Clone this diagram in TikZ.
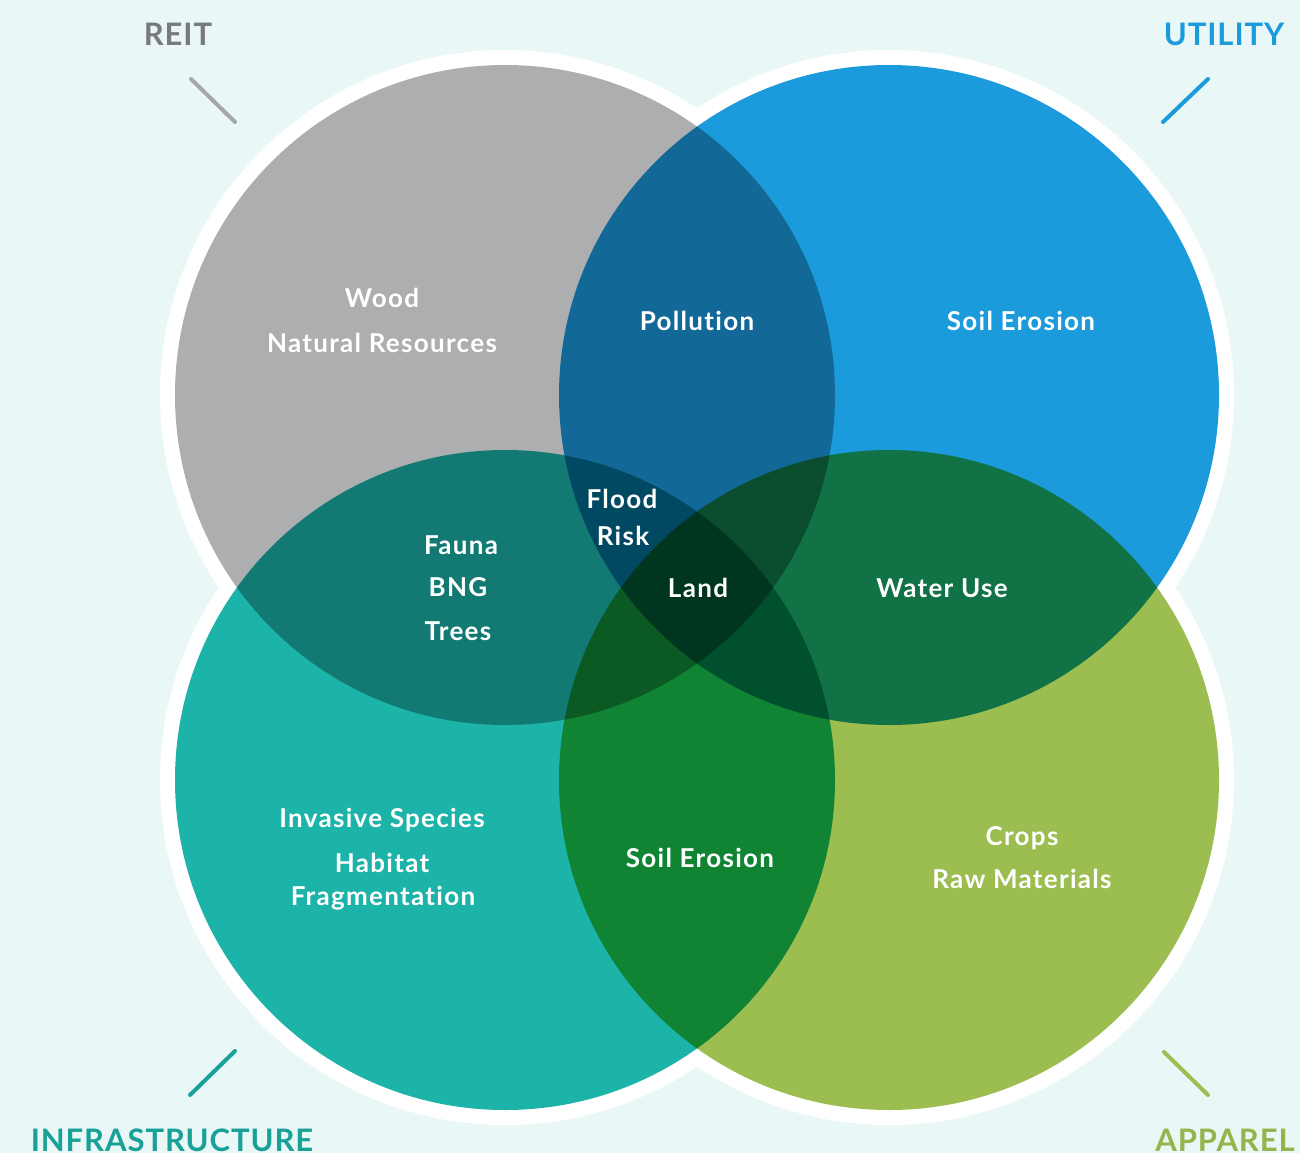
\documentclass[tikz,border=0pt]{standalone}
\usepackage{fontspec}
\setmainfont{Lato}[Ligatures=NoCommon]
\newfontfamily\vennfont{Lato}[Ligatures=NoCommon, LetterSpace=5]
\newfontfamily\cornerfont{Lato}[Ligatures=NoCommon, LetterSpace=3]
\definecolor{bg}{RGB}{234,247,247}
\definecolor{reitgray}{RGB}{173,174,176}
\definecolor{utilblue}{RGB}{27,154,220}
\definecolor{infrateal}{RGB}{28,179,168}
\definecolor{appgreen}{RGB}{156,189,80}
\definecolor{reittext}{RGB}{120,122,124}
\definecolor{reittick}{RGB}{166,167,169}
\tikzset{
  lbl/.style = {text=white, anchor=base, inner sep=0pt,
    font=\vennfont\fontsize{26}{30}\selectfont\bfseries},
  corner/.style = {anchor=base, inner sep=0pt,
    font=\cornerfont\fontsize{31}{36}\selectfont\bfseries},
  tick/.style = {line width=4pt, line cap=round}
}

\begin{document}
\begin{tikzpicture}[x=1pt, y=-1pt]
\def\circleA{(505,395) circle [radius = 330]}
\def\circleB{(889,395) circle [radius = 330]}
\def\circleC{(505,780) circle [radius = 330]}
\def\circleD{(889,780) circle [radius = 330]}
\fill[bg] (0,0) rectangle (1300,1153);
\useasboundingbox (0,0) rectangle (1300,1153);
% white rim
\foreach \cx/\cy in {505/395, 889/395, 505/780, 889/780}
  \fill[white] (\cx,\cy) circle [radius = 345];
\fill[reitgray, blend mode=multiply] \circleA;
\fill[utilblue, blend mode=multiply] \circleB;
\fill[infrateal, blend mode=multiply] \circleC;
\fill[appgreen, blend mode=multiply] \circleD;
% REIT
\node[lbl] (wood) at (382,307) {Wood};
\node[lbl] (natres) at (382,352) {Natural Resources};
% REIT + UTILITY
\node[lbl] (pollution) at (697,330) {Pollution};
% UTILITY
\node[lbl] (soiltop) at (1021,330) {Soil Erosion};
% REIT + UTILITY + INFRASTRUCTURE
\node[lbl] (flood) at (622,508) {Flood};
\node[lbl] (risk) at (623,545) {Risk};
% all four
\node[lbl] (land) at (698,597) {Land};
% UTILITY + APPAREL
\node[lbl] (water) at (942,597) {Water Use};
% REIT + INFRASTRUCTURE
\node[lbl] (fauna) at (461,554) {Fauna};
\node[lbl] (bng) at (458,596) {BNG};
\node[lbl] (trees) at (458,640) {Trees};
% INFRASTRUCTURE
\node[lbl] (invasive) at (382,827) {Invasive Species};
\node[lbl] (habitat) at (382,872) {Habitat};
\node[lbl] (fragment) at (383,905) {Fragmentation};
% INFRASTRUCTURE + APPAREL
\node[lbl] (soilbot) at (700,867) {Soil Erosion};
% APPAREL
\node[lbl] (crops) at (1022,845) {Crops};
\node[lbl] (rawmat) at (1022,888) {Raw Materials};
% corner labels and ticks
\node[corner, text=reittext] (reit) at (178,46) {REIT};
\node[corner, text=utilblue] (utility) at (1224,46) {UTILITY};
\node[corner, text=infrateal!90!black] (infra) at (172,1151) {INFRASTRUCTURE};
\node[corner, text=appgreen!95!black] (apparel) at (1225,1151) {APPAREL};
\draw[tick, reittick] (191,79) -- (235,122);
\draw[tick, utilblue] (1163,122) -- (1208,79);
\draw[tick, infrateal!90!black] (190,1095) -- (235,1051);
\draw[tick, appgreen] (1164,1052) -- (1208,1095);
\end{tikzpicture}
\end{document}
